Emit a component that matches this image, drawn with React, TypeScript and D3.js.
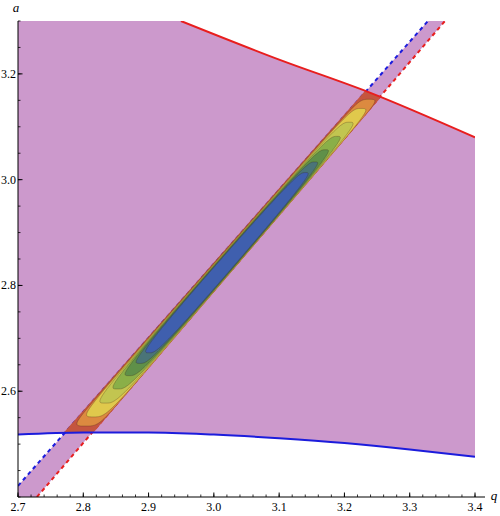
import React, { useMemo } from "react";
import * as d3 from "d3";

const W = 500;
const H = 516;

// axis domains and ticks
const qDomain = [2.7, 3.4];
const aDomain = [2.4, 3.3];
const xMajorTicks = [2.7, 2.8, 2.9, 3.0, 3.1, 3.2, 3.3, 3.4];
const xTickLabels = ["2.7", "2.8", "2.9", "3.0", "3.1", "3.2", "3.3", "3.4"];
const yMajorTicks = [2.6, 2.8, 3.0, 3.2];
const yTickLabels = ["2.6", "2.8", "3.0", "3.2"];
const xMinorStep = 0.02;
const yMinorStep = 0.05;

// upper boundary (red solid)
const upperQ = [2.9496, 3.1, 3.236, 3.4];
const upperA = [3.3, 3.227, 3.166, 3.08];

// lower boundary (blue solid)
const lowerQ = [2.7, 2.8, 2.9, 3.0, 3.1, 3.2, 3.3, 3.4];
const lowerA = [2.518, 2.522, 2.522, 2.518, 2.511, 2.502, 2.49, 2.476];

// dashed band edges
const blueDashQ = [2.7, 3.328];
const blueDashA = [2.421, 3.3];
const redDashQ = [2.729, 3.354];
const redDashA = [2.4, 3.3];

// contour field ends (along band, in a)
const contourALow = 2.522;
const contourAHigh = 3.166;

// contour levels (fraction of peak) and fills, outer -> inner
const contourLevels = [0.08, 0.18, 0.32, 0.45, 0.56, 0.65, 0.72];
const contourBase = "#c4553f";
const contourColors = ["#dc8a40", "#e0c94c", "#c2c550", "#8aaf48", "#5f9049", "#4a7478", "#3f5fae"];

const PURPLE = "#cc99cc";
const RED = "#e81e1e";
const BLUE = "#1c1cdc";

export default function App() {
  const x = d3.scaleLinear().domain(qDomain).range([18, 475]);
  const y = d3.scaleLinear().domain(aDomain).range([497, 21]);

  const upperPts: [number, number][] = upperQ.map((q, i) => [q, upperA[i]]);
  const lowerPts: [number, number][] = lowerQ.map((q, i) => [q, lowerA[i]]);

  const lineGen = d3
    .line<[number, number]>()
    .x((d) => x(d[0]))
    .y((d) => y(d[1]))
    .curve(d3.curveMonotoneX);
  const straight = d3
    .line<[number, number]>()
    .x((d) => x(d[0]))
    .y((d) => y(d[1]));

  const regionPath = (() => {
    const top = straight([[qDomain[0], aDomain[1]], upperPts[0]]) as string;
    const up = (lineGen(upperPts) as string).replace(/^M/, "L");
    const low = (lineGen(lowerPts.slice().reverse()) as string).replace(/^M/, "L");
    return top + up + low + "Z";
  })();

  const bandPts: [number, number][] = [
    [qDomain[0], aDomain[0]],
    [blueDashQ[0], blueDashA[0]],
    [blueDashQ[1], blueDashA[1]],
    [redDashQ[1], redDashA[1]],
    [redDashQ[0], redDashA[0]],
  ];
  const bandPath = straight(bandPts) + "Z";

  // slightly widened band for the contour stripe
  const pad = 1.3 / 652.9;
  const stripeBandPts: [number, number][] = [
    [blueDashQ[0] - pad - 0.02, blueDashA[0] - 0.028],
    [blueDashQ[1] - pad, blueDashA[1]],
    [redDashQ[1] + pad, redDashA[1]],
    [redDashQ[0] + pad, redDashA[0]],
  ];
  const stripeBandPath = straight(stripeBandPts) + "Z";

  const qb = d3.scaleLinear().domain(blueDashA).range(blueDashQ);
  const qr = d3.scaleLinear().domain(redDashA).range(redDashQ);

  const x0 = 50, y0 = 75, gw = 350, gh = 375;
  const contourPaths = useMemo(() => {
    const vals = new Float64Array(gw * gh);
    for (let j = 0; j < gh; j++) {
      const a = y.invert(y0 + j);
      const qL = qb(a) - pad;
      const qR = qr(a) + pad;
      let u = (a - contourALow) / (contourAHigh - contourALow);
      u = Math.max(0, Math.min(1, u));
      const along = 4 * u * (1 - u);
      for (let i = 0; i < gw; i++) {
        const q = x.invert(x0 + i);
        let v = (2 * (q - qL)) / (qR - qL) - 1;
        v = Math.max(-1, Math.min(1, v));
        vals[j * gw + i] = (1 - Math.pow(Math.abs(v), 4)) * along;
      }
    }
    const cs = d3.contours().size([gw, gh]).thresholds(contourLevels)(Array.from(vals));
    const gp = d3.geoPath();
    return cs.map((c) => gp(c as any) || "");
  }, []);

  const xMinor = d3.range(qDomain[0], qDomain[1] + 1e-9, xMinorStep);
  const yMinor = d3.range(aDomain[0], aDomain[1] + 1e-9, yMinorStep);

  const font = "'Liberation Serif', 'DejaVu Serif', serif";

  return (
    <svg
      width={W}
      height={H}
      style={{ position: "absolute", left: 0, top: 0, background: "#fff" }}
    >
      <defs>
        <clipPath id="plotClip">
          <rect x={x(qDomain[0])} y={y(aDomain[1])} width={x(qDomain[1]) - x(qDomain[0])} height={y(aDomain[0]) - y(aDomain[1])} />
        </clipPath>
        <clipPath id="stripeBandClip">
          <path d={stripeBandPath} />
        </clipPath>
        <clipPath id="regionClip">
          <path d={regionPath} />
        </clipPath>
      </defs>

      <g clipPath="url(#plotClip)">
        <path d={regionPath} fill={PURPLE} />
        <path d={bandPath} fill={PURPLE} />

        <path
          d={straight([[blueDashQ[0], blueDashA[0]], [blueDashQ[1], blueDashA[1]]]) as string}
          fill="none"
          stroke={BLUE}
          strokeWidth={2}
          strokeDasharray="4 3.5"
        />
        <path
          d={straight([[redDashQ[0], redDashA[0]], [redDashQ[1], redDashA[1]]]) as string}
          fill="none"
          stroke={RED}
          strokeWidth={2}
          strokeDasharray="4 3.5"
        />

        <g clipPath="url(#stripeBandClip)">
          <g clipPath="url(#regionClip)">
            <rect x={x0} y={y0} width={gw} height={gh} fill={contourBase} />
            <g transform={`translate(${x0},${y0})`}>
              {contourPaths.map((d, i) => (
                <path
                  key={i}
                  d={d}
                  fill={contourColors[i]}
                  stroke="rgba(60,35,25,0.45)"
                  strokeWidth={0.6}
                />
              ))}
            </g>
          </g>
        </g>

        <path d={lineGen(lowerPts) as string} fill="none" stroke={BLUE} strokeWidth={2} />
        <path d={lineGen(upperPts) as string} fill="none" stroke={RED} strokeWidth={2} />
      </g>

      {/* axes */}
      <line x1={x(qDomain[0])} x2={485} y1={y(aDomain[0])} y2={y(aDomain[0])} stroke="#000" strokeWidth={1} />
      <line x1={x(qDomain[0])} x2={x(qDomain[0])} y1={y(aDomain[0])} y2={y(aDomain[1])} stroke="#000" strokeWidth={1} />

      {xMinor.map((t, i) => (
        <line key={"xm" + i} x1={x(t)} x2={x(t)} y1={y(aDomain[0])} y2={y(aDomain[0]) - 2.5} stroke="#000" strokeWidth={0.8} />
      ))}
      {xMajorTicks.map((t, i) => (
        <g key={"xt" + i}>
          <line x1={x(t)} x2={x(t)} y1={y(aDomain[0])} y2={y(aDomain[0]) - 4.5} stroke="#000" strokeWidth={1} />
          <text x={x(t)} y={511} fontSize={12} fontFamily={font} textAnchor="middle" fill="#000">
            {xTickLabels[i]}
          </text>
        </g>
      ))}
      {yMinor.map((t, i) => (
        <line key={"ym" + i} x1={x(qDomain[0])} x2={x(qDomain[0]) + 2.5} y1={y(t)} y2={y(t)} stroke="#000" strokeWidth={0.8} />
      ))}
      {yMajorTicks.map((t, i) => (
        <g key={"yt" + i}>
          <line x1={x(qDomain[0])} x2={x(qDomain[0]) + 4.5} y1={y(t)} y2={y(t)} stroke="#000" strokeWidth={1} />
          <text x={16} y={y(t) + 4} fontSize={12} fontFamily={font} textAnchor="end" fill="#000">
            {yTickLabels[i]}
          </text>
        </g>
      ))}
      <text x={16} y={12} fontSize={13} fontStyle="italic" fontFamily={font} textAnchor="middle" fill="#000">
        a
      </text>
      <text x={494} y={500} fontSize={13} fontStyle="italic" fontFamily={font} textAnchor="middle" fill="#000">
        q
      </text>
    </svg>
  );
}
